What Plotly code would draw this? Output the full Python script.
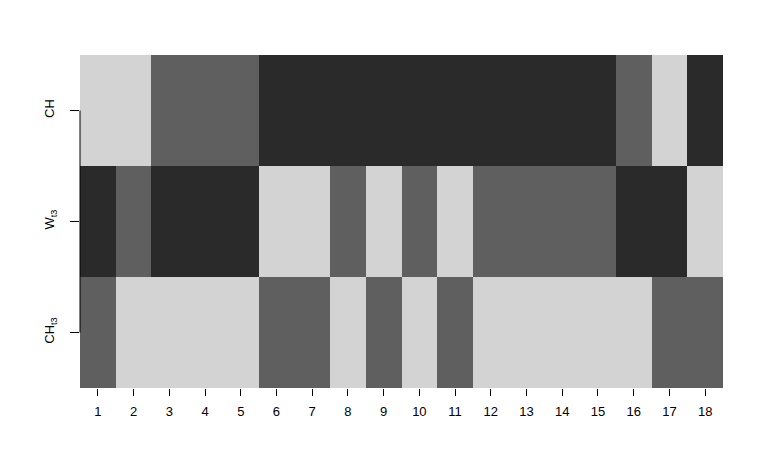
import plotly.graph_objects as go

_LIGHT = "#d3d3d3"
_MID = "#5f5f5f"
_DARK = "#2a2a2a"

columns = list(range(1, 19))
rows = ["CH", "W<sub>t3</sub>", "CH<sub>t3</sub>"]

# 1 = light, 2 = medium, 3 = dark
ch = [1, 1, 2, 2, 2, 3, 3, 3, 3, 3, 3, 3, 3, 3, 3, 2, 1, 3]
w_t3 = [3, 2, 3, 3, 3, 1, 1, 2, 1, 2, 1, 2, 2, 2, 2, 3, 3, 1]
ch_t3 = [2, 1, 1, 1, 1, 2, 2, 1, 2, 1, 2, 1, 1, 1, 1, 1, 2, 2]

z = [ch, w_t3, ch_t3]

fig = go.Figure(go.Heatmap(
    x=columns,
    y=[0, 1, 2],
    z=z,
    zmin=1,
    zmax=3,
    colorscale=[[0.0, _LIGHT], [0.5, _MID], [1.0, _DARK]],
    showscale=False,
))

# R-style axis line: runs only from first to last tick
fig.add_shape(type="line", xref="paper", yref="y", x0=0, x1=0, y0=0, y1=2,
              line=dict(color="black", width=1))

# the page body adds an 8px offset, so margins are shifted to compensate
fig.update_layout(
    width=764,
    height=458,
    paper_bgcolor="white",
    plot_bgcolor="white",
    font=dict(family="Liberation Sans, Arial, sans-serif", color="black", size=12),
    margin=dict(l=72, r=49, t=47, b=78),
    showlegend=False,
)
fig.update_xaxes(
    automargin=False,
    range=[0.5, 18.5],
    tickvals=columns,
    ticktext=[str(c) for c in columns],
    ticks="outside",
    ticklen=7,
    tickcolor="black",
    tickwidth=1,
    ticklabelstandoff=4,
    showline=False,
    showgrid=False,
    zeroline=False,
    tickfont=dict(size=13),
)
fig.update_yaxes(
    automargin=False,
    range=[2.5, -0.5],
    tickvals=[0, 1, 2],
    ticktext=rows,
    tickangle=-90,
    ticks="outside",
    ticklen=9,
    tickcolor="black",
    tickwidth=1,
    ticklabelstandoff=11,
    showline=False,
    showgrid=False,
    zeroline=False,
    tickfont=dict(size=13),
)

fig.write_html("out.html")
